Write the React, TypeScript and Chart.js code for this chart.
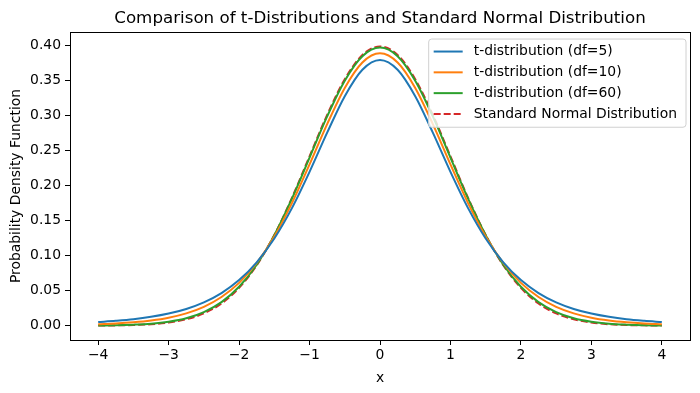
import React, { useEffect, useRef } from "react";
import { Chart, registerables } from "chart.js";

Chart.register(...registerables);

const xs = [-4, -3.75, -3.5, -3.25, -3, -2.75, -2.5, -2.25, -2, -1.75, -1.5, -1.25, -1, -0.75, -0.5, -0.25, 0, 0.25, 0.5, 0.75, 1, 1.25, 1.5, 1.75, 2, 2.25, 2.5, 2.75, 3, 3.25, 3.5, 3.75, 4];

const tDf5 = [0.0051, 0.0069, 0.0092, 0.0126, 0.0173, 0.0239, 0.0333, 0.0466, 0.0651, 0.0905, 0.1245, 0.1679, 0.2197, 0.2757, 0.3279, 0.3657, 0.3796, 0.3657, 0.3279, 0.2757, 0.2197, 0.1679, 0.1245, 0.0905, 0.0651, 0.0466, 0.0333, 0.0239, 0.0173, 0.0126, 0.0092, 0.0069, 0.0051];

const tDf10 = [0.0020, 0.0031, 0.0048, 0.0074, 0.0114, 0.0176, 0.0269, 0.0409, 0.0611, 0.0895, 0.1274, 0.1751, 0.2304, 0.2880, 0.3397, 0.3760, 0.3891, 0.3760, 0.3397, 0.2880, 0.2304, 0.1751, 0.1274, 0.0895, 0.0611, 0.0409, 0.0269, 0.0176, 0.0114, 0.0074, 0.0048, 0.0031, 0.0020];

const tDf60 = [0.0003, 0.0006, 0.0014, 0.0028, 0.0056, 0.0106, 0.0193, 0.0336, 0.0555, 0.0870, 0.1293, 0.1814, 0.2400, 0.2989, 0.3500, 0.3849, 0.3973, 0.3849, 0.3500, 0.2989, 0.2400, 0.1814, 0.1293, 0.0870, 0.0555, 0.0336, 0.0193, 0.0106, 0.0056, 0.0028, 0.0014, 0.0006, 0.0003];

const normal = [0.0001, 0.0004, 0.0009, 0.0020, 0.0044, 0.0091, 0.0175, 0.0317, 0.0540, 0.0863, 0.1295, 0.1826, 0.2420, 0.3011, 0.3521, 0.3867, 0.3989, 0.3867, 0.3521, 0.3011, 0.2420, 0.1826, 0.1295, 0.0863, 0.0540, 0.0317, 0.0175, 0.0091, 0.0044, 0.0020, 0.0009, 0.0004, 0.0001];

const seriesLabels = ["t-distribution (df=5)", "t-distribution (df=10)", "t-distribution (df=60)", "Standard Normal Distribution"];
const xTicks = [-4, -3, -2, -1, 0, 1, 2, 3, 4];
const yTicks = [0, 0.05, 0.1, 0.15, 0.2, 0.25, 0.3, 0.35, 0.4];

const FONT = "DejaVu Sans";
const TICK_SIZE = 13.9;

const frameAndLegend = {
  id: "frameAndLegend",
  afterDatasetsDraw(chart: any) {
    const ctx = chart.ctx;
    const a = chart.chartArea;
    ctx.save();
    ctx.strokeStyle = "#000";
    ctx.lineWidth = 1;
    ctx.strokeRect(Math.round(a.left) + 0.5, Math.round(a.top) + 0.5, Math.round(a.right - a.left), Math.round(a.bottom - a.top));
    ctx.font = `${TICK_SIZE}px '${FONT}'`;
    const ds = chart.data.datasets;
    let maxW = 0;
    ds.forEach((d: any) => { maxW = Math.max(maxW, ctx.measureText(d.label).width); });
    const boxRight = a.right - 4;
    const boxTop = a.top + 7;
    const rowH = 20.8;
    const boxW = maxW + 45 + 9;
    const boxH = rowH * ds.length + 5;
    const boxLeft = boxRight - boxW;
    ctx.beginPath();
    const r = 3;
    ctx.moveTo(boxLeft + r, boxTop);
    ctx.arcTo(boxRight, boxTop, boxRight, boxTop + boxH, r);
    ctx.arcTo(boxRight, boxTop + boxH, boxLeft, boxTop + boxH, r);
    ctx.arcTo(boxLeft, boxTop + boxH, boxLeft, boxTop, r);
    ctx.arcTo(boxLeft, boxTop, boxRight, boxTop, r);
    ctx.closePath();
    ctx.fillStyle = "rgba(255,255,255,0.8)";
    ctx.fill();
    ctx.strokeStyle = "#d0d0d0";
    ctx.stroke();
    ds.forEach((d: any, i: number) => {
      const y = boxTop + 12.5 + i * rowH;
      ctx.beginPath();
      ctx.strokeStyle = d.borderColor;
      ctx.lineWidth = d.borderWidth;
      ctx.setLineDash(d.borderDash || []);
      ctx.moveTo(boxLeft + 5, y);
      ctx.lineTo(boxLeft + 34, y);
      ctx.stroke();
      ctx.setLineDash([]);
      ctx.fillStyle = "#000";
      ctx.textBaseline = "middle";
      ctx.textAlign = "left";
      ctx.fillText(d.label, boxLeft + 45, y);
    });
    ctx.restore();
  },
};

export default function App() {
  const ref = useRef<HTMLCanvasElement | null>(null);
  useEffect(() => {
    if (!ref.current) return;
    Chart.defaults.font.family = FONT;
    Chart.defaults.color = "#000";
    const mk = (vals: number[]) => xs.map((x, i) => ({ x, y: vals[i] }));
    const colors = ["#1f77b4", "#ff7f0e", "#2ca02c", "#d62728"];
    const all = [tDf5, tDf10, tDf60, normal];
    const chart = new Chart(ref.current, {
      type: "line",
      data: {
        datasets: all.map((vals, i) => ({
          label: seriesLabels[i],
          data: mk(vals),
          borderColor: colors[i],
          backgroundColor: colors[i],
          borderWidth: 2,
          borderDash: i === 3 ? [7, 3] : [],
          pointRadius: 0,
          fill: false,
          cubicInterpolationMode: "monotone" as const,
        })),
      },
      options: {
        responsive: false,
        animation: false,
        layout: { padding: { left: 0, right: 10, top: 0, bottom: 0 } },
        plugins: {
          legend: { display: false },
          tooltip: { enabled: false },
          title: {
            display: true,
            fullSize: false,
            text: "Comparison of t-Distributions and Standard Normal Distribution",
            font: { size: 16.7, weight: "normal" as const, family: FONT, lineHeight: 1.2 },
            color: "#000",
            padding: { top: 9, bottom: 3 },
          },
        },
        scales: {
          x: {
            type: "linear",
            min: -4.4,
            max: 4.4,
            afterBuildTicks: (s: any) => { s.ticks = xTicks.map((v) => ({ value: v })); },
            afterFit: (s: any) => { s.height = 53; },
            ticks: {
              font: { size: TICK_SIZE },
              color: "#000",
              padding: 2,
              maxRotation: 0,
              callback: (v: any) => (Number(v) < 0 ? "\u2212" + Math.abs(Number(v)) : String(v)),
            },
            grid: { drawOnChartArea: false, drawTicks: true, tickLength: 5, color: "#000" },
            border: { display: true, color: "#000" },
            title: { display: true, text: "x", font: { size: TICK_SIZE }, color: "#000", padding: { top: 0, bottom: 6 } },
          },
          y: {
            type: "linear",
            min: -0.0205,
            max: 0.4195,
            afterBuildTicks: (s: any) => { s.ticks = yTicks.map((v) => ({ value: v })); },
            afterFit: (s: any) => { s.width = 70; },
            ticks: {
              font: { size: TICK_SIZE },
              color: "#000",
              padding: 4,
              callback: (v: any) => Number(v).toFixed(2),
            },
            grid: { drawOnChartArea: false, drawTicks: true, tickLength: 5, color: "#000" },
            border: { display: true, color: "#000" },
            title: { display: true, text: "Probability Density Function", font: { size: TICK_SIZE }, color: "#000", padding: { top: 8, bottom: 0 } },
          },
        },
      },
      plugins: [frameAndLegend],
    } as any);
    return () => chart.destroy();
  }, []);
  return (
    <canvas
      ref={ref}
      width={700}
      height={393}
      style={{ position: "absolute", left: 0, top: 0, width: 700, height: 393 }}
    />
  );
}
